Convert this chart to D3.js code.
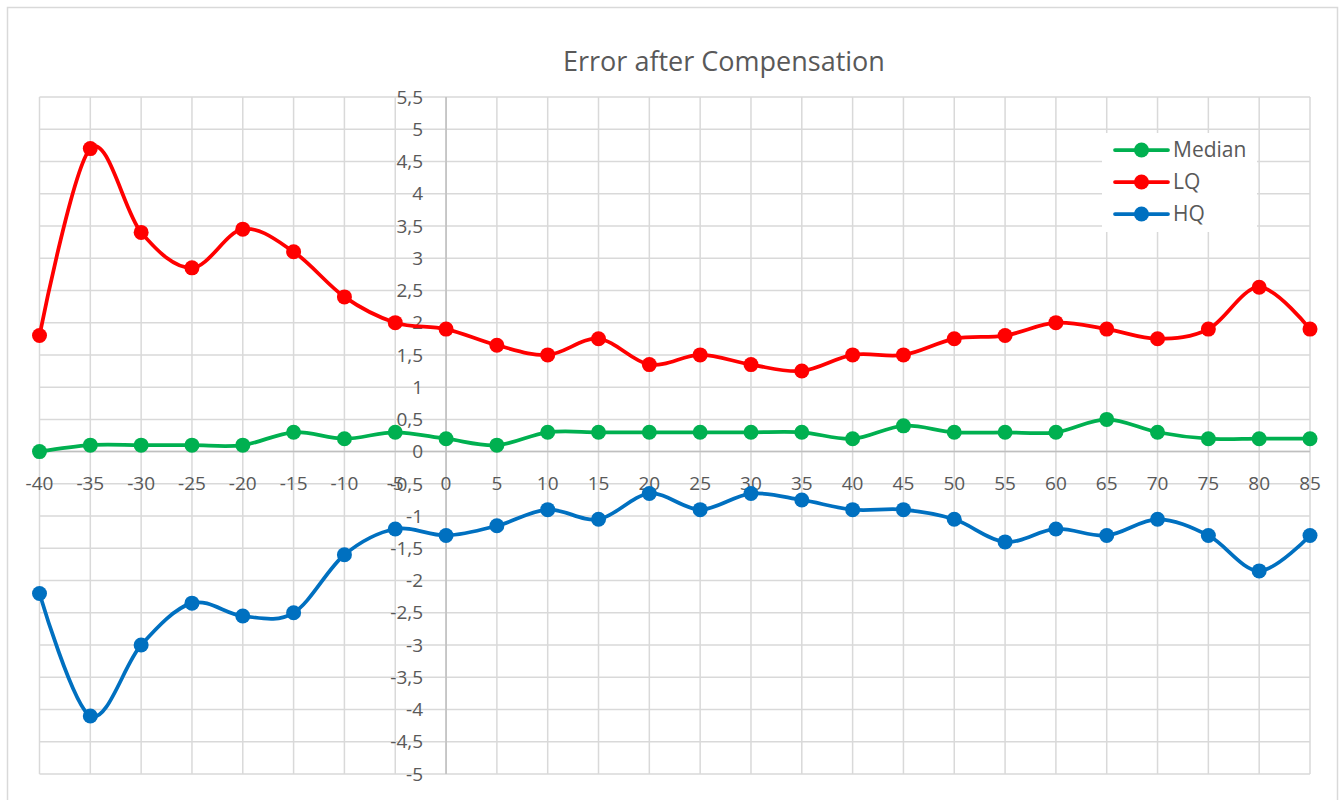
<!DOCTYPE html>
<html>
<head>
<meta charset="utf-8">
<script src="https://cdn.jsdelivr.net/npm/d3@7"></script>
<style>
  body { margin: 0; background: #fff; }
  text { font-family: "Open Sans", "Noto Sans", sans-serif; fill: #595959; }
</style>
</head>
<body>
<script>
// temperatures (x)
var temps = [-40,-35,-30,-25,-20,-15,-10,-5,0,5,10,15,20,25,30,35,40,45,50,55,60,65,70,75,80,85];

var median = [0,0.1,0.1,0.1,0.1,0.3,0.2,0.3,0.2,0.1,0.3,0.3,0.3,0.3,0.3,0.3,0.2,0.4,0.3,0.3,0.3,0.5,0.3,0.2,0.2,0.2];
var lq = [1.8,4.7,3.4,2.85,3.45,3.1,2.4,2.0,1.9,1.65,1.5,1.75,1.35,1.5,1.35,1.25,1.5,1.5,1.75,1.8,2.0,1.9,1.75,1.9,2.55,1.9];
var hq = [-2.2,-4.1,-3.0,-2.35,-2.55,-2.5,-1.6,-1.2,-1.3,-1.15,-0.9,-1.05,-0.65,-0.9,-0.65,-0.75,-0.9,-0.9,-1.05,-1.4,-1.2,-1.3,-1.05,-1.3,-1.85,-1.3];

var yTicks = d3.range(-5, 5.51, 0.5);

var seriesNames = ["Median", "LQ", "HQ"];
var seriesColors = ["#00B050", "#FF0000", "#0070C0"];
var seriesData = [median, lq, hq];

var W = 1341, H = 800;

var svg = d3.select("body").append("svg")
    .attr("width", W)
    .attr("height", H);

// chart border
svg.append("rect")
    .attr("x", 7.5).attr("y", 7.5)
    .attr("width", 1330).attr("height", 820)
    .attr("fill", "none")
    .attr("stroke", "#d9d9d9")
    .attr("stroke-width", 1.5);

var x = d3.scaleLinear().domain([-40, 85]).range([39.5, 1310]);
var y = d3.scaleLinear().domain([-5, 5.5]).range([774, 97]);

// title
svg.append("text")
    .attr("x", 724).attr("y", 71)
    .attr("text-anchor", "middle")
    .style("font-size", "27px")
    .text("Error after Compensation");

// gridlines
var grid = svg.append("g");
grid.selectAll(".hg").data(yTicks).enter().append("line")
    .attr("x1", x(-40)).attr("x2", x(85))
    .attr("y1", function(d) { return y(d); })
    .attr("y2", function(d) { return y(d); })
    .attr("stroke", "#d9d9d9").attr("stroke-width", 1.5);
grid.selectAll(".vg").data(temps).enter().append("line")
    .attr("x1", function(d) { return x(d); })
    .attr("x2", function(d) { return x(d); })
    .attr("y1", y(5.5)).attr("y2", y(-5))
    .attr("stroke", "#d9d9d9").attr("stroke-width", 1.5);

// axes through zero
svg.append("line")
    .attr("x1", x(-40)).attr("x2", x(85))
    .attr("y1", y(0)).attr("y2", y(0))
    .attr("stroke", "#bfbfbf").attr("stroke-width", 1.5);
svg.append("line")
    .attr("x1", x(0)).attr("x2", x(0))
    .attr("y1", y(5.5)).attr("y2", y(-5))
    .attr("stroke", "#bfbfbf").attr("stroke-width", 1.5);

// tick labels
var fmt = function(d) { return d3.format("~g")(d).replace(".", ",").replace("−", "-"); };

svg.append("g").selectAll("text").data(yTicks).enter().append("text")
    .attr("x", x(0) - 23)
    .attr("y", function(d) { return y(d); })
    .attr("dy", "0.35em")
    .attr("text-anchor", "end")
    .style("font-size", "19px")
    .text(fmt);

svg.append("g").selectAll("text").data(temps).enter().append("text")
    .attr("x", function(d) { return x(d); })
    .attr("y", y(0) + 32)
    .attr("dy", "0.35em")
    .attr("text-anchor", "middle")
    .style("font-size", "19px")
    .text(fmt);

// series
var line = d3.line()
    .x(function(d, i) { return x(temps[i]); })
    .y(function(d) { return y(d); })
    .curve(d3.curveCardinal.tension(0));

seriesData.forEach(function(vals, s) {
  svg.append("path")
      .datum(vals)
      .attr("fill", "none")
      .attr("stroke", seriesColors[s])
      .attr("stroke-width", 3.75)
      .attr("stroke-linejoin", "round")
      .attr("d", line);
  svg.append("g").selectAll("circle").data(vals).enter().append("circle")
      .attr("cx", function(d, i) { return x(temps[i]); })
      .attr("cy", function(d) { return y(d); })
      .attr("r", 7.5)
      .attr("fill", seriesColors[s]);
});

// legend
var legend = svg.append("g");
legend.append("rect")
    .attr("x", 1102).attr("y", 133)
    .attr("width", 155).attr("height", 99)
    .attr("fill", "#fff");
seriesNames.forEach(function(name, i) {
  var ly = 150 + i * 32;
  legend.append("line")
      .attr("x1", 1115).attr("x2", 1168)
      .attr("y1", ly).attr("y2", ly)
      .attr("stroke", seriesColors[i]).attr("stroke-width", 3.75)
      .attr("stroke-linecap", "round");
  legend.append("circle")
      .attr("cx", 1141.5).attr("cy", ly).attr("r", 7.5)
      .attr("fill", seriesColors[i]);
  legend.append("text")
      .attr("x", 1173).attr("y", ly)
      .attr("dy", "0.35em")
      .style("font-size", "21px")
      .text(name);
});
</script>
</body>
</html>
